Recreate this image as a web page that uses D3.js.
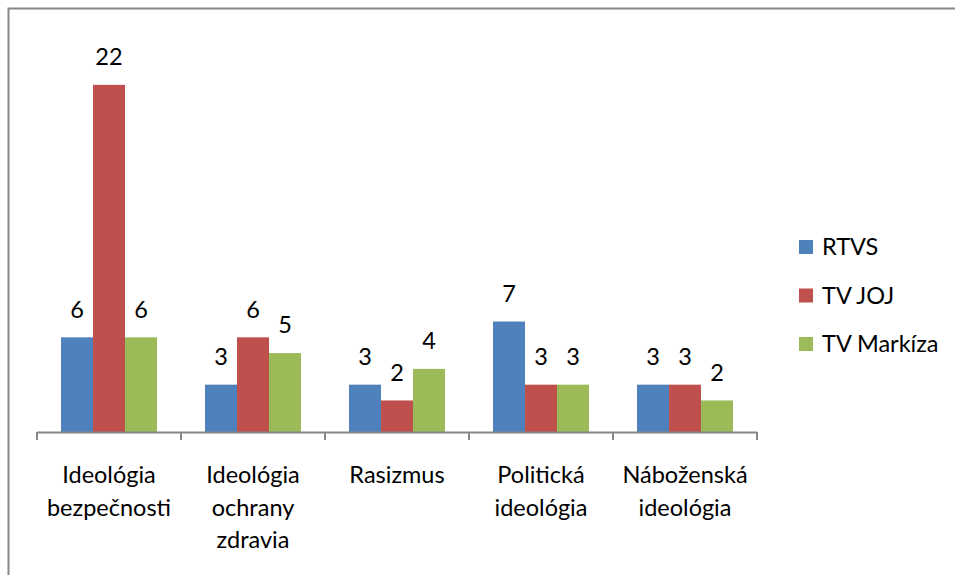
<!DOCTYPE html>
<html><head><meta charset="utf-8">
<script src="https://cdn.jsdelivr.net/npm/d3@7"></script>
<style>body{margin:0;background:#fff}svg{display:block}text{font-family:Lato,"Open Sans",sans-serif;fill:#000}</style>
</head><body>
<svg id="c" width="955" height="575"></svg>
<script>
const categories = [["Ideológia","bezpečnosti"],["Ideológia","ochrany","zdravia"],["Rasizmus"],["Politická","ideológia"],["Náboženská","ideológia"]];
const seriesNames = ["RTVS","TV JOJ","TV Markíza"];
const rtvs = [6,3,3,7,3];
const joj = [22,6,2,3,3];
const markiza = [6,5,4,3,2];
const colors = ["#4F81BD","#C0504D","#9BBB59"];
const values = [rtvs, joj, markiza];

const svg = d3.select("#c");
const fs = 23.5;
svg.append("rect").attr("x",8.5).attr("y",8.5).attr("width",960).attr("height",580)
  .attr("fill","#fff").attr("stroke","#888").attr("stroke-width",2);

const catIdx = d3.range(categories.length);
const x = d3.scaleBand().domain(catIdx).range([37,757]).paddingInner(0).paddingOuter(0);
const xs = d3.scaleBand().domain(d3.range(3)).range([24,120]);
const y = d3.scaleLinear().domain([0,25]).range([432, 432-25*15.78]);

const g = svg.append("g");
values.forEach((vals,si)=>{
  g.selectAll(null).data(vals).enter().append("rect")
    .attr("x",(d,i)=>x(i)+xs(si))
    .attr("y",d=>y(d))
    .attr("width",xs.bandwidth())
    .attr("height",d=>y(0)-y(d))
    .attr("fill",colors[si]);
  g.selectAll(null).data(vals).enter().append("text")
    .attr("x",(d,i)=>x(i)+xs(si)+xs.bandwidth()/2)
    .attr("y",d=>y(d)-28)
    .attr("dy","0.35em")
    .attr("text-anchor","middle")
    .style("font-size",fs+"px")
    .text(d=>d);
});

// axis
const axisG = svg.append("g");
axisG.append("line").attr("x1",37).attr("x2",757).attr("y1",432.5).attr("y2",432.5)
  .attr("stroke","#868686").attr("stroke-width",2);
const ticks = catIdx.map(i=>x(i)).concat([757]);
axisG.selectAll(null).data(ticks).enter().append("line")
  .attr("x1",d=>d).attr("x2",d=>d).attr("y1",432).attr("y2",440)
  .attr("stroke","#868686").attr("stroke-width",2);

// category labels
categories.forEach((lines,i)=>{
  const t = svg.append("text").attr("text-anchor","middle").style("font-size",fs+"px");
  lines.forEach((l,j)=>{
    t.append("tspan").attr("x",x(i)+x.bandwidth()/2).attr("y",475+j*32.5).attr("dy","0.35em").text(l);
  });
});

// legend
const leg = svg.append("g");
seriesNames.forEach((n,i)=>{
  const cy = 247 + i*48.5;
  leg.append("rect").attr("x",799).attr("y",cy-7).attr("width",14).attr("height",14).attr("fill",colors[i]);
  leg.append("text").attr("x",822).attr("y",cy).attr("dy","0.35em").style("font-size",fs+"px").text(n);
});
</script>
</body></html>
